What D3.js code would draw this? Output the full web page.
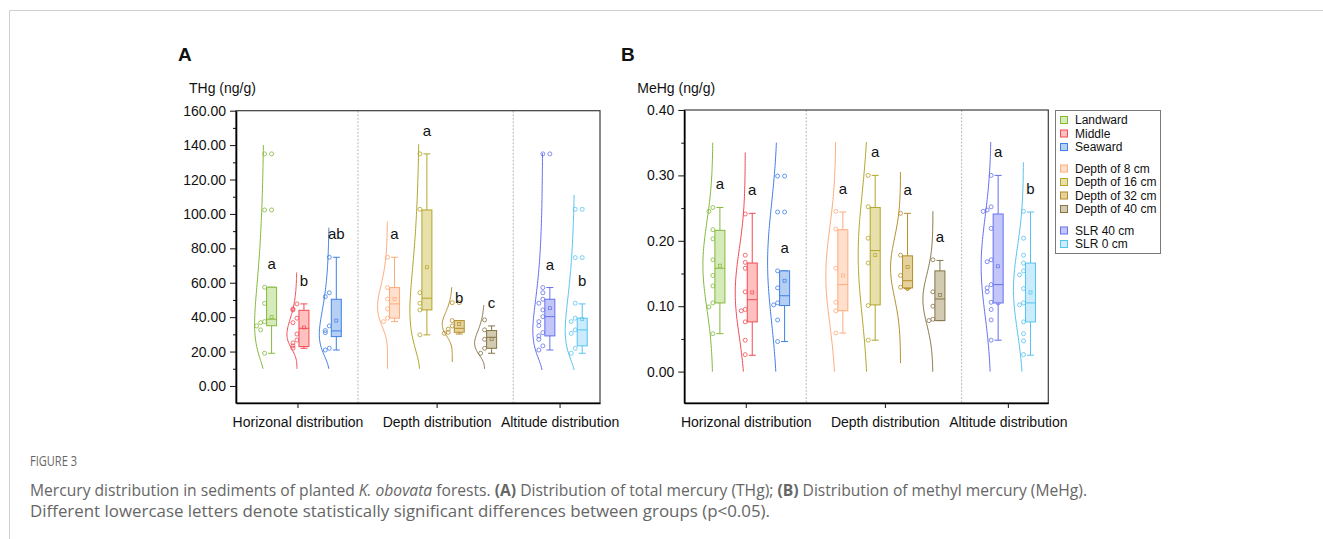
<!DOCTYPE html>
<html>
<head>
<meta charset="utf-8">
<script src="https://cdn.jsdelivr.net/npm/d3@7"></script>
<style>
  body { margin: 0; background: #fff; }
  svg { display: block; font-family: "Liberation Sans", Arial, sans-serif; }
</style>
</head>
<body>
<svg id="fig" width="1323" height="539"></svg>
<script>
var categories = ["Horizonal distribution", "Depth distribution", "Altitude distribution"];
var groupNames = ["Landward", "Middle", "Seaward", "Depth of 8 cm", "Depth of 16 cm",
  "Depth of 32 cm", "Depth of 40 cm", "SLR 40 cm", "SLR 0 cm"];
var groupCategory = [0, 0, 0, 1, 1, 1, 1, 2, 2];

var colors = ["#84b93c", "#f24b52", "#3f80e6", "#ffab7a", "#b3a52a", "#b58e2c", "#857446", "#6571ef", "#57c3f3"];
var fills = ["#d6ebba", "#ffc0c0", "#b6cff5", "#ffe0cd", "#e8e0aa", "#e5d39d", "#d3cbb1", "#c3c6f9", "#caecfc"];

// THg (ng/g)
var thgPoints = [
  [134.9, 134.9, 102.3, 102.3, 57.4, 48, 37.4, 36.8, 34.9, 32.6, 19],
  [47.7, 44.8, 44.2, 39.4, 36.8, 30.2, 26.7, 25, 23.3, 21.9],
  [74.8, 54.2, 51.9, 34.9, 32.2, 31, 21.9, 20.9],
  [74.8, 57.2, 50.6, 44.8, 39.4, 37.4],
  [134.9, 102.7, 54.2, 48.1, 44.2, 29.7],
  [48.4, 48.4, 38, 34.9, 33, 31.2, 30.6],
  [38.4, 32.6, 27.1, 21.9, 19],
  [134.9, 134.9, 57.2, 54.2, 50.4, 48.1, 44.2, 40.3, 37.4, 35.1, 31, 29.1, 27.1, 23.3, 20.9],
  [102.7, 102.7, 74.6, 74.6, 48.1, 39.4, 37.4, 32.6, 30.6, 21.9, 19]
];
// whisker low, Q1, median, Q3, whisker high, mean
var thgBox = [
  [19, 35, 38.8, 57.4, 57.4, 40],
  [21.9, 22.9, 33.5, 44, 47.7, 34],
  [20.9, 28.7, 32, 50.4, 74.8, 38],
  [37.4, 39.4, 47.7, 57.2, 74.8, 50.6],
  [29.7, 44.2, 51, 102.3, 134.9, 69],
  [30.2, 31.2, 33.5, 38, 38, 36],
  [19, 21.9, 28.3, 32.2, 34.9, 27.3],
  [20.9, 29.1, 40.3, 50.4, 57.2, 45.2],
  [19, 23.3, 32.6, 39.4, 47.7, 38.8]
];
var thgCurve = [[10, 140], [10, 66], [10, 92], [10, 95.5], [10, 140.5], [14, 57.4], [10, 47], [9.3, 135.3], [9.3, 111]];
var thgLetters = ["a", "b", "ab", "a", "a", "b", "c", "a", "b"];

// MeHg (ng/g)
var mehgPoints = [
  [0.251, 0.245, 0.217, 0.203, 0.171, 0.147, 0.131, 0.105, 0.099, 0.058],
  [0.241, 0.178, 0.167, 0.158, 0.122, 0.095, 0.093, 0.076, 0.048, 0.026],
  [0.299, 0.299, 0.244, 0.244, 0.154, 0.128, 0.128, 0.105, 0.102, 0.079, 0.046],
  [0.245, 0.218, 0.158, 0.106, 0.093, 0.059],
  [0.300, 0.252, 0.204, 0.166, 0.101, 0.048],
  [0.242, 0.178, 0.147, 0.129, 0.128, 0.127],
  [0.171, 0.122, 0.100, 0.080, 0.078],
  [0.300, 0.252, 0.247, 0.245, 0.219, 0.171, 0.168, 0.133, 0.128, 0.122, 0.106, 0.105, 0.095, 0.079, 0.048],
  [0.245, 0.204, 0.178, 0.166, 0.154, 0.148, 0.127, 0.105, 0.102, 0.076, 0.058, 0.047, 0.026]
];
var mehgBox = [
  [0.058, 0.105, 0.158, 0.216, 0.251, 0.162],
  [0.025, 0.076, 0.110, 0.166, 0.242, 0.121],
  [0.046, 0.101, 0.116, 0.154, 0.154, 0.139],
  [0.059, 0.093, 0.133, 0.217, 0.244, 0.147],
  [0.048, 0.102, 0.185, 0.251, 0.300, 0.178],
  [0.127, 0.128, 0.139, 0.177, 0.242, 0.160],
  [0.078, 0.078, 0.111, 0.154, 0.170, 0.117],
  [0.048, 0.105, 0.133, 0.241, 0.300, 0.161],
  [0.025, 0.076, 0.105, 0.166, 0.244, 0.121]
];
var mehgCurve = [[0, 0.35], [0, 0.335], [0, 0.35], [0, 0.351], [0, 0.351], [0.013, 0.305], [0, 0.245], [0, 0.351], [0, 0.32]];
var mehgLetters = ["a", "a", "a", "a", "a", "a", "a", "a", "b"];

var svg = d3.select("#fig");

// page frame lines
svg.append("line").attr("x1", 9.5).attr("y1", 10.5).attr("x2", 1323).attr("y2", 10.5).attr("stroke", "#cfcfcf");
svg.append("line").attr("x1", 9.5).attr("y1", 10.5).attr("x2", 9.5).attr("y2", 539).attr("stroke", "#cfcfcf");

// slot layout of the groups
var slotPos = [], catPos = [], sepPos = [];
var pos = 0;
groupCategory.forEach(function(c, i) {
  if (i > 0) pos += (c !== groupCategory[i - 1]) ? 1.8 : 1;
  slotPos.push(pos);
});
categories.forEach(function(c, ci) {
  var p = slotPos.filter(function(d, i) { return groupCategory[i] === ci; });
  catPos.push((p[0] + p[p.length - 1]) / 2 - 0.2);
  if (ci > 0) {
    var prev = slotPos.filter(function(d, i) { return groupCategory[i] === ci - 1; });
    sepPos.push((prev[prev.length - 1] + p[0]) / 2 - 0.23);
  }
});

function fitStats(vals, log) {
  var v = vals.map(function(d) { return log ? Math.log(d) : d; });
  return {m: d3.mean(v), s: d3.deviation(v)};
}
function density(v, st, log) {
  var z = ((log ? Math.log(v) : v) - st.m) / st.s;
  return Math.exp(-z * z / 2) / (log ? v : 1);
}

function drawPanel(cfg) {
  var g = svg.append("g");
  var bottom = 403, width = 364;
  var x = d3.scaleLinear().domain([-1.1, 10.15]).range([cfg.left, cfg.left + width]);
  var y = d3.scaleLinear().domain(cfg.yDomain).range([bottom, cfg.top]);

  // separators
  g.selectAll(".sep").data(sepPos).enter().append("line")
    .attr("x1", d => x(d)).attr("x2", d => x(d))
    .attr("y1", cfg.top).attr("y2", bottom)
    .attr("stroke", "#c4c4c4").attr("stroke-width", 1.2).attr("stroke-dasharray", "2,1.5");

  // frame
  g.append("rect").attr("x", cfg.left).attr("y", cfg.top)
    .attr("width", width).attr("height", bottom - cfg.top)
    .attr("fill", "none").attr("stroke", "#3c3c3c").attr("stroke-width", 1.2);

  var major = d3.range(0, cfg.yDomain[1] + cfg.step / 2, cfg.step);
  var minor = major.slice(0, -1).map(d => d + cfg.step / 2);

  g.append("g").attr("transform", "translate(" + cfg.left + ",0)")
    .call(d3.axisLeft(y).tickValues(minor).tickSize(3).tickFormat(""))
    .call(a => a.select(".domain").remove())
    .selectAll("line").attr("stroke", "#111");

  var ya = g.append("g").attr("transform", "translate(" + cfg.left + ",0)")
    .call(d3.axisLeft(y).tickValues(major).tickFormat(d3.format(".2f")).tickSize(6).tickPadding(4).tickSizeOuter(0));
  ya.select(".domain").attr("stroke", "#000").attr("stroke-width", 1.6);
  ya.selectAll("line").attr("stroke", "#111");
  ya.selectAll("text").attr("font-size", 14).attr("fill", "#111").attr("font-family", "'Liberation Sans', Arial, sans-serif");

  var xa = g.append("g").attr("transform", "translate(0," + bottom + ")")
    .call(d3.axisBottom(x).tickValues(catPos).tickFormat((d, i) => categories[i]).tickSize(5).tickPadding(9).tickSizeOuter(0));
  xa.select(".domain").attr("stroke", "#000").attr("stroke-width", 1.4);
  xa.selectAll("line").attr("stroke", "#111");
  xa.selectAll("text").attr("font-size", 14).attr("fill", "#111").attr("font-family", "'Liberation Sans', Arial, sans-serif");

  g.append("text").attr("x", cfg.left - 47).attr("y", 93).attr("font-size", 14).attr("fill", "#111").text(cfg.title);
  g.append("text").attr("x", cfg.letterX).attr("y", 61).attr("font-size", 19).attr("font-weight", "bold").attr("fill", "#111").text(cfg.letter);

  var line = d3.line();
  cfg.points.forEach(function(vals, i) {
    var cx = x(slotPos[i]);
    var base = cx - 7;
    var col = colors[i];
    var st = fitStats(vals, cfg.log);
    var lo = cfg.curve[i][0], hi = cfg.curve[i][1];
    var samples = d3.range(0, 81).map(k => lo + (hi - lo) * k / 80);
    var pmax = d3.max(samples, v => density(v, st, cfg.log));
    g.append("path")
      .attr("d", line(samples.map(v => [base - 10 * density(v, st, cfg.log) / pmax, y(v)])))
      .attr("fill", "none").attr("stroke", col).attr("stroke-width", 1);

    // points, simple dodge
    var placed = [];
    vals.forEach(function(v) {
      var py = y(v);
      var near = placed.filter(p => Math.abs(p.y - py) < 5);
      var dx = near.some(p => Math.abs(p.y - py) < 1) ? 7 : [0, -4, -8, -2, -6][near.length % 5];
      placed.push({y: py, dx: dx});
    });
    g.selectAll(null).data(placed).enter().append("circle")
      .attr("cx", d => base + d.dx).attr("cy", d => d.y).attr("r", 2)
      .attr("fill", "none").attr("stroke", col).attr("stroke-width", 0.8);

    var b = cfg.box[i];
    g.append("line").attr("x1", cx).attr("x2", cx).attr("y1", y(b[0])).attr("y2", y(b[4]))
      .attr("stroke", col).attr("stroke-width", 1);
    [b[0], b[4]].forEach(function(w) {
      g.append("line").attr("x1", cx - 3.5).attr("x2", cx + 3.5).attr("y1", y(w)).attr("y2", y(w))
        .attr("stroke", col).attr("stroke-width", 1);
    });
    g.append("rect").attr("x", cx - 5).attr("y", y(b[3])).attr("width", 10).attr("height", y(b[1]) - y(b[3]))
      .attr("fill", fills[i]).attr("stroke", col).attr("stroke-width", 1);
    g.append("line").attr("x1", cx - 5).attr("x2", cx + 5).attr("y1", y(b[2])).attr("y2", y(b[2]))
      .attr("stroke", col).attr("stroke-width", 1);
    g.append("rect").attr("x", cx - 1.5).attr("y", y(b[5]) - 1.5).attr("width", 3).attr("height", 3)
      .attr("fill", "none").attr("stroke", col).attr("stroke-width", 0.7);

    g.append("text").attr("x", cx).attr("y", y(b[4]) - 23 + 5).attr("text-anchor", "middle")
      .attr("font-size", 15).attr("fill", "#111").text(cfg.letters[i]);
  });
}

drawPanel({left: 236, top: 110.7, yDomain: [-9.9, 160], step: 20, title: "THg (ng/g)", letter: "A", letterX: 178,
  points: thgPoints, box: thgBox, curve: thgCurve, letters: thgLetters, log: true});
drawPanel({left: 684.3, top: 110, yDomain: [-0.048, 0.4], step: 0.1, title: "MeHg (ng/g)", letter: "B", letterX: 621,
  points: mehgPoints, box: mehgBox, curve: mehgCurve, letters: mehgLetters, log: false});

// legend
var lg = svg.append("g");
lg.append("rect").attr("x", 1055.5).attr("y", 110.5).attr("width", 105).attr("height", 143)
  .attr("fill", "#fff").attr("stroke", "#7a7a7a").attr("stroke-width", 1);
groupNames.forEach(function(n, i) {
  var yy = 120 + i * 13.5 + groupCategory[i] * 8;
  lg.append("rect").attr("x", 1060.5).attr("y", yy - 3.5).attr("width", 7).attr("height", 7)
    .attr("fill", fills[i]).attr("stroke", colors[i]).attr("stroke-width", 1);
  lg.append("text").attr("x", 1075).attr("y", yy + 4.3).attr("font-size", 12).attr("fill", "#111").text(n);
});

// caption
var capFont = "'Open Sans', 'Noto Sans', sans-serif";
var cap = svg.append("g").attr("fill", "#666");
cap.append("text").attr("x", 30).attr("y", 466).attr("font-size", 14).attr("font-family", capFont)
  .attr("textLength", 47).attr("lengthAdjust", "spacingAndGlyphs").text("FIGURE 3");
var l1 = cap.append("text").attr("x", 30).attr("y", 496).attr("font-size", 15.5).attr("font-family", capFont)
  .attr("textLength", 1057).attr("lengthAdjust", "spacingAndGlyphs");
l1.append("tspan").text("Mercury distribution in sediments of planted ");
l1.append("tspan").attr("font-style", "italic").text("K. obovata");
l1.append("tspan").text(" forests. ");
l1.append("tspan").attr("font-weight", "bold").text("(A)");
l1.append("tspan").text(" Distribution of total mercury (THg); ");
l1.append("tspan").attr("font-weight", "bold").text("(B)");
l1.append("tspan").text(" Distribution of methyl mercury (MeHg).");
cap.append("text").attr("x", 30).attr("y", 517).attr("font-size", 15.5).attr("font-family", capFont)
  .attr("textLength", 740).attr("lengthAdjust", "spacingAndGlyphs")
  .text("Different lowercase letters denote statistically significant differences between groups (p<0.05).");
</script>
</body>
</html>
